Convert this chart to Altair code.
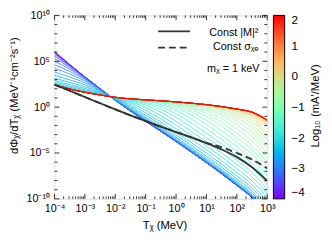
import altair as alt
import pandas as pd

FONT = "Liberation Sans"

# kinetic energy grid (MeV)
T_MeV = [1e-4, 3.162e-4, 1e-3, 3.162e-3, 1e-2, 3.162e-2, 0.1, 0.3162, 1.0,
         3.162, 10.0, 31.62, 100.0, 316.2, 1000.0]

# log10(m_A'/MeV) of each coloured curve
log_mA = [-4.0, -3.875, -3.75, -3.625, -3.5, -3.375, -3.25, -3.125, -3.0,
          -2.875, -2.75, -2.625, -2.5, -2.375, -2.25, -2.125, -2.0, -1.875,
          -1.75, -1.625, -1.5, -1.375, -1.25, -1.125, -1.0, -0.875, -0.75,
          -0.625, -0.5, -0.375, -0.25, -0.125, 0.0, 0.125, 0.25, 0.375, 0.5,
          0.625, 0.75, 0.875, 1.0, 1.125, 1.25, 1.375, 1.5, 1.625, 1.75,
          1.875, 2.0]

# log10 of dPhi/dT (MeV^-1 cm^-2 s^-1) for each curve, on the T grid
flux_log = [
    [6.07, 4.65, 3.30, 2.01, 0.75, -0.42, -1.53, -2.63, -3.75, -4.89, -6.05, -7.26, -8.53, -9.87, -11.73],
    [6.04, 4.64, 3.30, 2.01, 0.75, -0.42, -1.53, -2.63, -3.75, -4.89, -6.05, -7.26, -8.53, -9.87, -11.73],
    [5.99, 4.62, 3.29, 2.01, 0.76, -0.42, -1.53, -2.63, -3.75, -4.89, -6.05, -7.26, -8.53, -9.87, -11.73],
    [5.90, 4.59, 3.28, 2.01, 0.76, -0.41, -1.52, -2.62, -3.74, -4.88, -6.04, -7.25, -8.52, -9.86, -11.72],
    [5.77, 4.54, 3.27, 2.01, 0.76, -0.41, -1.52, -2.62, -3.74, -4.88, -6.04, -7.25, -8.52, -9.86, -11.72],
    [5.57, 4.46, 3.24, 2.00, 0.76, -0.41, -1.52, -2.62, -3.74, -4.88, -6.04, -7.25, -8.52, -9.86, -11.72],
    [5.31, 4.33, 3.20, 1.99, 0.76, -0.40, -1.51, -2.61, -3.73, -4.87, -6.03, -7.24, -8.51, -9.85, -11.71],
    [4.99, 4.15, 3.12, 1.97, 0.76, -0.39, -1.49, -2.59, -3.71, -4.85, -6.01, -7.22, -8.49, -9.83, -11.69],
    [4.62, 3.90, 3.01, 1.95, 0.77, -0.37, -1.47, -2.57, -3.69, -4.83, -5.99, -7.20, -8.47, -9.81, -11.67],
    [4.23, 3.61, 2.86, 1.90, 0.79, -0.34, -1.43, -2.52, -3.64, -4.78, -5.94, -7.15, -8.42, -9.76, -11.62],
    [3.84, 3.29, 2.66, 1.84, 0.81, -0.28, -1.36, -2.45, -3.57, -4.71, -5.87, -7.08, -8.35, -9.69, -11.55],
    [3.48, 2.97, 2.44, 1.76, 0.83, -0.20, -1.26, -2.34, -3.45, -4.59, -5.75, -6.96, -8.23, -9.57, -11.43],
    [3.17, 2.68, 2.22, 1.66, 0.87, -0.07, -1.10, -2.17, -3.28, -4.42, -5.58, -6.79, -8.06, -9.40, -11.26],
    [2.92, 2.45, 2.03, 1.57, 0.92, 0.09, -0.88, -1.93, -3.04, -4.17, -5.33, -6.54, -7.81, -9.15, -11.01],
    [2.74, 2.28, 1.88, 1.49, 0.96, 0.26, -0.62, -1.64, -2.73, -3.86, -5.02, -6.23, -7.50, -8.84, -10.70],
    [2.62, 2.16, 1.78, 1.43, 1.00, 0.44, -0.34, -1.29, -2.36, -3.49, -4.64, -5.85, -7.12, -8.46, -10.32],
    [2.54, 2.09, 1.72, 1.39, 1.03, 0.59, -0.05, -0.93, -1.96, -3.07, -4.22, -5.43, -6.70, -8.04, -9.90],
    [2.49, 2.04, 1.68, 1.37, 1.04, 0.70, 0.20, -0.56, -1.54, -2.63, -3.78, -4.98, -6.25, -7.59, -9.45],
    [2.47, 2.02, 1.65, 1.35, 1.05, 0.78, 0.40, -0.23, -1.12, -2.18, -3.31, -4.51, -5.78, -7.12, -8.98],
    [2.45, 2.00, 1.64, 1.34, 1.06, 0.83, 0.55, 0.06, -0.73, -1.73, -2.84, -4.03, -5.29, -6.63, -8.49],
    [2.44, 1.99, 1.63, 1.34, 1.07, 0.86, 0.64, 0.28, -0.37, -1.29, -2.36, -3.54, -4.80, -6.14, -8.00],
    [2.44, 1.99, 1.63, 1.33, 1.07, 0.88, 0.70, 0.43, -0.08, -0.88, -1.90, -3.06, -4.31, -5.65, -7.51],
    [2.43, 1.98, 1.62, 1.33, 1.07, 0.89, 0.74, 0.54, 0.15, -0.52, -1.46, -2.58, -3.82, -5.15, -7.01],
    [2.43, 1.98, 1.62, 1.33, 1.07, 0.89, 0.76, 0.60, 0.31, -0.22, -1.05, -2.11, -3.33, -4.66, -6.51],
    [2.43, 1.98, 1.62, 1.33, 1.07, 0.90, 0.77, 0.64, 0.41, 0.00, -0.68, -1.67, -2.85, -4.17, -6.02],
    [2.43, 1.98, 1.62, 1.33, 1.07, 0.90, 0.78, 0.66, 0.48, 0.17, -0.39, -1.26, -2.39, -3.68, -5.52],
    [2.43, 1.98, 1.62, 1.33, 1.07, 0.90, 0.78, 0.67, 0.52, 0.27, -0.16, -0.89, -1.94, -3.19, -5.03],
    [2.43, 1.98, 1.62, 1.33, 1.07, 0.90, 0.79, 0.68, 0.54, 0.34, 0.01, -0.60, -1.53, -2.73, -4.54],
    [2.43, 1.98, 1.62, 1.33, 1.07, 0.90, 0.79, 0.68, 0.55, 0.38, 0.11, -0.37, -1.16, -2.28, -4.05],
    [2.43, 1.98, 1.62, 1.33, 1.07, 0.90, 0.79, 0.69, 0.56, 0.40, 0.18, -0.20, -0.87, -1.87, -3.59],
    [2.43, 1.98, 1.62, 1.33, 1.07, 0.90, 0.79, 0.69, 0.56, 0.41, 0.22, -0.10, -0.64, -1.50, -3.14],
    [2.43, 1.98, 1.62, 1.33, 1.07, 0.90, 0.79, 0.69, 0.57, 0.42, 0.24, -0.03, -0.47, -1.21, -2.73],
    [2.43, 1.98, 1.62, 1.33, 1.07, 0.90, 0.79, 0.69, 0.57, 0.42, 0.25, 0.01, -0.37, -0.98, -2.36],
    [2.43, 1.98, 1.62, 1.33, 1.07, 0.90, 0.79, 0.69, 0.57, 0.43, 0.26, 0.03, -0.30, -0.81, -2.07],
    [2.43, 1.98, 1.62, 1.33, 1.07, 0.90, 0.79, 0.69, 0.57, 0.43, 0.26, 0.04, -0.26, -0.71, -1.84],
    [2.43, 1.98, 1.62, 1.33, 1.07, 0.90, 0.79, 0.69, 0.57, 0.43, 0.27, 0.05, -0.24, -0.64, -1.67],
    [2.43, 1.98, 1.62, 1.33, 1.07, 0.90, 0.79, 0.69, 0.57, 0.43, 0.27, 0.05, -0.23, -0.60, -1.57],
    [2.43, 1.98, 1.62, 1.33, 1.07, 0.90, 0.79, 0.69, 0.57, 0.43, 0.27, 0.06, -0.22, -0.58, -1.50],
    [2.43, 1.98, 1.62, 1.33, 1.07, 0.90, 0.79, 0.69, 0.57, 0.43, 0.27, 0.06, -0.22, -0.57, -1.46],
    [2.43, 1.98, 1.62, 1.33, 1.07, 0.90, 0.79, 0.69, 0.57, 0.43, 0.27, 0.06, -0.21, -0.56, -1.44],
    [2.43, 1.98, 1.62, 1.33, 1.07, 0.90, 0.79, 0.69, 0.57, 0.43, 0.27, 0.06, -0.21, -0.56, -1.43],
    [2.43, 1.98, 1.62, 1.33, 1.07, 0.90, 0.79, 0.69, 0.57, 0.43, 0.27, 0.06, -0.21, -0.55, -1.42],
    [2.43, 1.98, 1.62, 1.33, 1.07, 0.90, 0.79, 0.69, 0.57, 0.43, 0.27, 0.06, -0.21, -0.55, -1.42],
    [2.43, 1.98, 1.62, 1.33, 1.07, 0.90, 0.79, 0.69, 0.57, 0.43, 0.27, 0.06, -0.21, -0.55, -1.41],
    [2.43, 1.98, 1.62, 1.33, 1.07, 0.90, 0.79, 0.69, 0.57, 0.43, 0.27, 0.06, -0.21, -0.55, -1.41],
    [2.43, 1.98, 1.62, 1.33, 1.07, 0.90, 0.79, 0.69, 0.57, 0.43, 0.27, 0.06, -0.21, -0.55, -1.41],
    [2.43, 1.98, 1.62, 1.33, 1.07, 0.90, 0.79, 0.69, 0.57, 0.43, 0.27, 0.06, -0.21, -0.55, -1.41],
    [2.43, 1.98, 1.62, 1.33, 1.07, 0.90, 0.79, 0.69, 0.57, 0.43, 0.27, 0.06, -0.21, -0.55, -1.41],
    [2.43, 1.98, 1.62, 1.33, 1.07, 0.90, 0.79, 0.69, 0.57, 0.43, 0.27, 0.06, -0.21, -0.55, -1.41],
]

# black reference curves (log10 flux on the same T grid)
const_M2_log = [2.45, 1.78, 1.10, 0.42, -0.25, -0.90, -1.52, -2.13, -2.72, -3.30,
                -3.93, -4.62, -5.45, -6.55, -8.05]
const_sigma_log = [2.45, 1.78, 1.10, 0.42, -0.25, -0.90, -1.52, -2.13, -2.72, -3.30,
                   -3.90, -4.38, -5.00, -5.72, -6.68]

# colour bar
cbar_stops = [-4.0, -3.5, -3.0, -2.5, -2.0, -1.5, -1.0, -0.5, 0.0, 0.5, 1.0, 1.5, 2.0]
cbar_colors = ["#8000ff", "#5542fd", "#2b80f6", "#00b4ec", "#2bdddd", "#55f6ca",
               "#80ffb4", "#aaf69b", "#d4dd80", "#ffb462", "#ff8042", "#ff4221", "#ff0000"]
cbar_labels = [-4, -3, -2, -1, 0, 1, 2]

# axis ticks
x_decades = [1e-4, 1e-3, 1e-2, 1e-1, 1.0, 10.0, 100.0, 1000.0]
x_minor = [m * d for d in x_decades[:-1] for m in range(2, 10)]
y_labelled = [1e-10, 1e-5, 1.0, 1e5, 1e10]
y_minor = [10.0 ** e for e in range(-10, 11) if e % 5 != 0]

W, H = 217.5, 187.5
CB_X, CB_W = 223.8, 11.5   # colour bar position / thickness (px, plot coords)

recs = []
for m, vals in zip(log_mA, flux_log):
    for t, v in zip(T_MeV, vals):
        recs.append({"curve": f"c{m:+.3f}", "logm": m, "T": t, "flux": 10.0 ** v})
df = pd.DataFrame(recs)

df_m2 = pd.DataFrame({"T": T_MeV, "flux": [10.0 ** v for v in const_M2_log]})
df_sig = pd.DataFrame({"T": T_MeV, "flux": [10.0 ** v for v in const_sigma_log]})

xs = alt.Scale(type="log", domain=[1e-4, 1e3], nice=False)
ys = alt.Scale(type="log", domain=[1e-10, 1e10], nice=False)

xaxis = alt.Axis(
    values=x_decades,
    labelExpr="'10' + ['⁻⁴','⁻³','⁻²','⁻¹','⁰','¹','²','³'][round(log(datum.value)/LN10)+4]",
    ticks=False, domain=False, grid=False, title=None, labelPadding=4,
    labelFlush=False, labelOverlap=False, labelFontSize=11, labelFont=FONT,
    labelColor="black")
yaxis = alt.Axis(
    values=y_labelled,
    labelExpr="'10' + ['⁻¹⁰','⁻⁵','⁰','⁵','¹⁰'][round(log(datum.value)/LN10/5)+2]",
    ticks=False, domain=False, grid=False, title=None, labelPadding=5,
    labelFlush=False, labelOverlap=False, labelFontSize=11, labelFont=FONT,
    labelColor="black")


def X(field):
    return alt.X(field, type="quantitative", scale=xs, axis=xaxis)


def Y(field):
    return alt.Y(field, type="quantitative", scale=ys, axis=yaxis)


curves = alt.Chart(df).mark_line(clip=True, strokeWidth=0.8, interpolate="monotone").encode(
    x=X("T"),
    y=Y("flux"),
    color=alt.Color("logm:Q",
                    scale=alt.Scale(domain=cbar_stops, range=cbar_colors, interpolate="rgb"),
                    legend=alt.Legend(orient="none", legendX=CB_X, legendY=0,
                                      direction="vertical", title=None,
                                      gradientLength=H, gradientThickness=CB_W,
                                      values=cbar_labels, labelFontSize=12,
                                      labelFont=FONT, labelColor="black",
                                      labelOffset=7, labelBaseline="middle",
                                      labelAlign="left", labelOverlap=False,
                                      gradientStrokeColor="black",
                                      gradientStrokeWidth=1, padding=0)),
    detail="curve:N",
)

line_m2 = alt.Chart(df_m2).mark_line(clip=True, color="#333333", strokeWidth=1.8,
                                     interpolate="monotone").encode(x=X("T"), y=Y("flux"))
line_sig = alt.Chart(df_sig).mark_line(clip=True, color="#333333", strokeWidth=1.8,
                                       strokeDash=[7, 4], interpolate="monotone").encode(
    x=X("T"), y=Y("flux"))


def xticks(vals, length, top):
    d = pd.DataFrame({"T": vals})
    y0, y1 = (0, length) if top else (H - length, H)
    return alt.Chart(d).mark_rule(color="black", strokeWidth=0.8).encode(
        x=X("T"), y=alt.value(y0), y2=alt.value(y1))


def yticks(vals, length, right):
    d = pd.DataFrame({"flux": vals})
    x0, x1 = (W - length, W) if right else (0, length)
    return alt.Chart(d).mark_rule(color="black", strokeWidth=0.8).encode(
        y=Y("flux"), x=alt.value(x0), x2=alt.value(x1))


def text(s, x, y, align="center", angle=0, size=11):
    return alt.Chart(pd.DataFrame({"t": [s]})).mark_text(
        align=align, baseline="middle", angle=angle, fontSize=size, font=FONT,
        color="black").encode(text="t:N", x=alt.value(x), y=alt.value(y))


one = pd.DataFrame({"a": [0]})


def hrule(x0, x1, y, color="black", width=0.8, dash=None):
    kw = {"color": color, "strokeWidth": width}
    if dash:
        kw["strokeDash"] = dash
    return alt.Chart(one).mark_rule(**kw).encode(
        x=alt.value(x0), x2=alt.value(x1), y=alt.value(y))


# short ticks inside the colour bar at each labelled value
cbar_ticks = []
for v in cbar_labels[1:-1]:
    yp = (2 - v) / 6 * H
    cbar_ticks.append(hrule(CB_X, CB_X + 3, yp))
    cbar_ticks.append(hrule(CB_X + CB_W - 3, CB_X + CB_W, yp))

layers = [
    curves, line_m2, line_sig,
    xticks(x_decades, 5, False), xticks(x_minor, 2.5, False),
    xticks(x_decades, 5, True), xticks(x_minor, 2.5, True),
    yticks(y_labelled, 5, False), yticks(y_minor, 3, False),
    yticks(y_labelled, 5, True), yticks(y_minor, 3, True),
    hrule(106, 138.5, 16.3, color="#333333", width=1.8),
    hrule(106, 138.5, 33, color="#333333", width=1.8, dash=[7, 4]),
    *cbar_ticks,
    text("Const |M|²", 208.5, 18, align="right"),
    text("Const σᵪₑ", 208.5, 32, align="right"),
    text("mᵪ = 1 keV", 209.5, 55, align="right"),
    text("Tᵪ (MeV)", 113, 215, size=11.5),
    text("dΦᵪ/dTᵪ (MeV⁻¹cm⁻²s⁻¹)", -40, 82, angle=270, size=11.5),
    text("Log₁₀ (mA'/MeV)", 267.8, 92.5, angle=270, size=11.5),
]

chart = alt.layer(*layers).properties(
    width=W, height=H,
    autosize=alt.AutoSizeParams(type="none"),
    padding={"left": 47.5, "top": 5, "right": 58, "bottom": 40},
).configure_view(stroke="black", strokeWidth=1).configure(font=FONT)

chart.save("out.html", embed_options={"renderer": "svg", "actions": False})
